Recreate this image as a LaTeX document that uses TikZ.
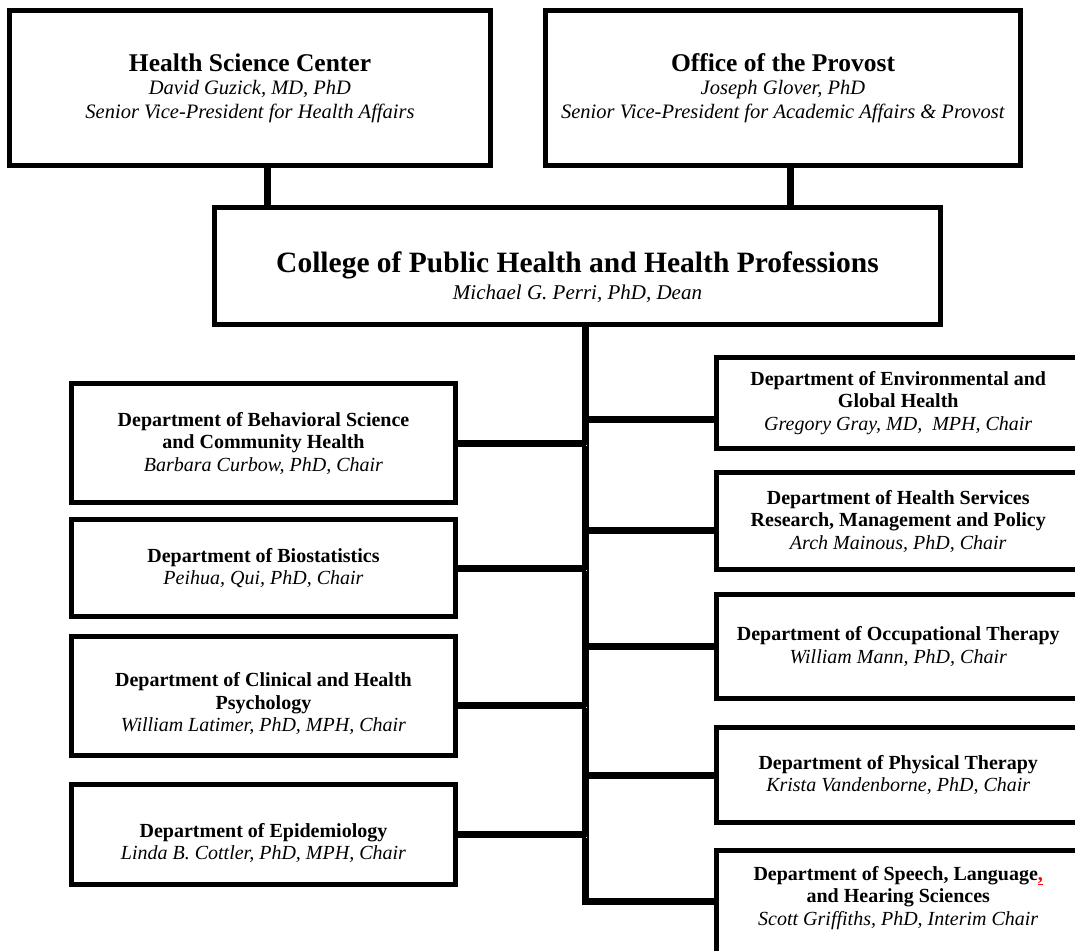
\documentclass[tikz,border=0pt]{standalone}
\usepackage{fontspec}
\setmainfont{Liberation Serif}
\usetikzlibrary{backgrounds}

\tikzset{
    box/.style={draw, line width=5pt, fill=white, align=center, inner sep=0pt},
    head/.style={box, minimum height=155pt, font=\fontsize{20.5}{23.5}\selectfont},
    dept/.style={box, font=\fontsize{20}{22.5}\selectfont},
    shade/.style={draw=black!18, transform canvas={shift={(1.5pt,-2.5pt)}}},
    link/.style={line width=7pt, line join=miter, preaction={shade}}
}

\begin{document}
\begin{tikzpicture}[x=1pt,y=-1pt]
        \path[use as bounding box] (0,0) rectangle (1075,950);
        \clip (0,0) rectangle (1075,950);

        % top level
        \node[head, minimum width=481pt] (hsc) at (250,88)
            {{\fontsize{25.5}{23.5}\selectfont\textbf{Health Science Center}}\\
             \textit{David Guzick, MD, PhD}\\
             \textit{Senior Vice-President for Health Affairs}};
        \node[head, minimum width=475pt] (provost) at (783,88)
            {{\fontsize{25.5}{23.5}\selectfont\textbf{Office of the Provost}}\\
             \textit{Joseph Glover, PhD}\\
             \textit{Senior Vice-President for Academic Affairs \& Provost}};
        \node[box, minimum width=726pt, minimum height=117pt, text height=69.4pt, font=\fontsize{21}{27}\selectfont] (college) at (577.5,266)
            {{\fontsize{29.5}{27}\selectfont\textbf{College of Public Health and Health Professions}}\\
             \textit{Michael G. Perri, PhD, Dean}};

        % left column
        \node[dept, minimum width=384pt, minimum height=119pt] (behav) at (263.5,443)
            {\textbf{Department of Behavioral Science}\\ \textbf{and Community Health}\\ \textit{Barbara Curbow, PhD, Chair}};
        \node[dept, minimum width=384pt, minimum height=97pt] (biostat) at (263.5,568)
            {\textbf{Department of Biostatistics}\\ \textit{Peihua, Qui, PhD, Chair}};
        \node[dept, minimum width=384pt, minimum height=119pt, text height=74.6pt] (clinpsy) at (263.5,696)
            {\textbf{Department of Clinical and Health}\\ \textbf{Psychology}\\ \textit{William Latimer, PhD, MPH, Chair}};
        \node[dept, minimum width=384pt, minimum height=100pt, text height=54pt] (epid) at (263.5,834.5)
            {\textbf{Department of Epidemiology}\\ \textit{Linda B. Cottler, PhD, MPH, Chair}};

        % right column
        \node[dept, minimum width=363.5pt, minimum height=91pt] (envhealth) at (898.25,403)
            {\textbf{Department of Environmental and}\\ \textbf{Global Health}\\ \textit{Gregory Gray, MD, \ MPH, Chair}};
        \node[dept, minimum width=363.5pt, minimum height=97pt] (hsrmp) at (898.25,521)
            {\textbf{Department of Health Services}\\ \textbf{Research, Management and Policy}\\ \textit{Arch Mainous, PhD, Chair}};
        \node[dept, minimum width=363.5pt, minimum height=104pt] (occther) at (898.25,646.5)
            {\textbf{Department of Occupational Therapy}\\ \textit{William Mann, PhD, Chair}};
        \node[dept, minimum width=363.5pt, minimum height=94.5pt] (physther) at (898.25,775)
            {\textbf{Department of Physical Therapy}\\ \textit{Krista Vandenborne, PhD, Chair}};
        \node[dept, minimum width=363.5pt, minimum height=130pt, text depth=40pt] (speech) at (898.25,915.5)
            {\textbf{Department of Speech, Language\textcolor{red}{\underline{,}}}\\ \textbf{and Hearing Sciences}\\ \textit{Scott Griffiths, PhD, Interim Chair}};

        % connectors
        \coordinate (hscdrop) at (267,0);
        \coordinate (provdrop) at (790,0);
        \coordinate (spine) at (585.5,324.5);
        \coordinate (clinj) at ([yshift=-9pt]clinpsy.east);
        \coordinate (envj) at ([yshift=-16pt]envhealth.west);
        \coordinate (hsrj) at ([yshift=-9pt]hsrmp.west);
        \coordinate (speechj) at ([yshift=14.5pt]speech.west);
        \begin{scope}[on background layer]
            \draw[link] (hsc.south -| hscdrop) -- (college.north -| hscdrop);
            \draw[link] (provost.south -| provdrop) -- (college.north -| provdrop);
            \draw[link] (spine) -- (spine |- speechj) -- (speechj);
            \draw[link] (behav.east) -- (behav.east -| spine);
            \draw[link] (biostat.east) -- (biostat.east -| spine);
            \draw[link] (clinj) -- (clinj -| spine);
            \draw[link] (epid.east) -- (epid.east -| spine);
            \draw[link] (envj -| spine) -- (envj);
            \draw[link] (hsrj -| spine) -- (hsrj);
            \draw[link] (occther.west -| spine) -- (occther.west);
            \draw[link] (physther.west -| spine) -- (physther.west);
        \end{scope}
\end{tikzpicture}
\end{document}
